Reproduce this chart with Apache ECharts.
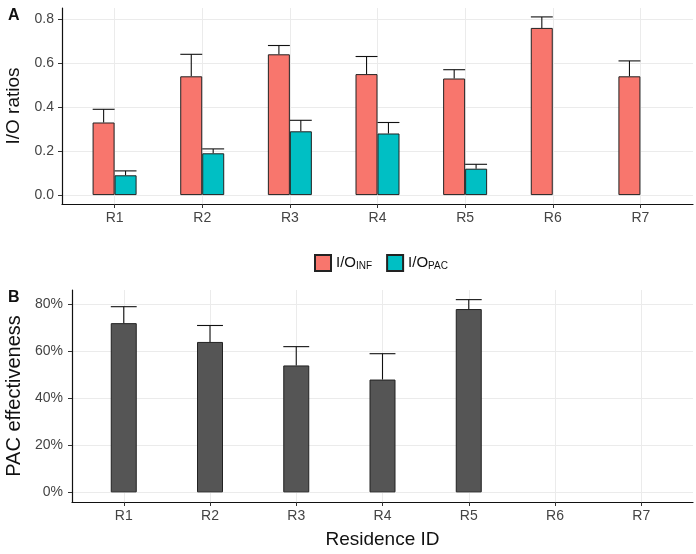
<!DOCTYPE html>
<html>
<head>
<meta charset="utf-8">
<script src="https://cdn.jsdelivr.net/npm/echarts@6/dist/echarts.min.js"></script>
<style>html,body{margin:0;padding:0;background:#fff}#c{width:696px;height:554px}</style>
</head>
<body>
<div id="c"></div>
<script>
// ---- data ----
var categories = ['R1', 'R2', 'R3', 'R4', 'R5', 'R6', 'R7'];
var ioInf = [0.33, 0.54, 0.64, 0.55, 0.53, 0.76, 0.54];
var ioInfUpper = [0.39, 0.64, 0.68, 0.63, 0.57, 0.81, 0.61];
var ioPac = [0.09, 0.19, 0.29, 0.28, 0.12, null, null];
var ioPacUpper = [0.11, 0.21, 0.34, 0.33, 0.14, null, null];
var pacEff = [0.72, 0.64, 0.54, 0.48, 0.78, null, null];
var pacEffUpper = [0.79, 0.71, 0.62, 0.59, 0.82, null, null];
var yTicksA = [0, 0.2, 0.4, 0.6, 0.8];
var yTicksB = [0, 0.2, 0.4, 0.6, 0.8];

var FONT = '"Liberation Sans", Arial, sans-serif';
var pos = categories.map(function (c, i) { return i + 1; });

function barData(vals) {
  return vals.map(function (v, i) { return v == null ? [pos[i], '-'] : [pos[i], v]; });
}
function errData(vals, ups) {
  var out = [];
  vals.forEach(function (v, i) { if (v != null) out.push([pos[i], v, ups[i]]); });
  return out;
}
function errSeries(name, xi, yi, vals, ups, dx, half) {
  return {
    type: 'custom', name: name, xAxisIndex: xi, yAxisIndex: yi, z: 3, silent: true,
    data: errData(vals, ups),
    renderItem: function (params, api) {
      var x = api.value(0), v = api.value(1), u = api.value(2);
      var p0 = api.coord([x + dx, v]);
      var p1 = api.coord([x + dx, u]);
      var cl = api.coord([x + dx - half, u]);
      var cr = api.coord([x + dx + half, u]);
      var st = { stroke: '#111', lineWidth: 1.1 };
      return {
        type: 'group', children: [
          { type: 'line', shape: { x1: p0[0], y1: p0[1], x2: p1[0], y2: p1[1] }, style: st },
          { type: 'line', shape: { x1: cl[0], y1: cl[1], x2: cr[0], y2: cr[1] }, style: st }
        ]
      };
    }
  };
}

var tickLabel = { color: '#444', fontSize: 14, fontFamily: FONT };
function xAxisCfg(gi, name) {
  return {
    type: 'value', gridIndex: gi, min: 0.4, max: 7.6,
    axisLine: { show: true, onZero: false, lineStyle: { color: '#111', width: 1.2 } },
    axisTick: { show: true, length: 4, customValues: pos, lineStyle: { color: '#333', width: 1 } },
    axisLabel: Object.assign({ margin: 7, customValues: pos, formatter: function (v) { return categories[Math.round(v) - 1]; } }, tickLabel),
    splitLine: { show: true, lineStyle: { color: '#ebebeb', width: 1 } },
    name: name || '', nameLocation: 'middle', nameGap: 28,
    nameTextStyle: { fontSize: 19, color: '#111', fontFamily: FONT }
  };
}
function yAxisCfg(gi, min, max, ticks, fmt, name, gap, margin, fs) {
  return {
    type: 'value', gridIndex: gi, min: min, max: max,
    axisLine: { show: true, onZero: false, lineStyle: { color: '#111', width: 1.2 } },
    axisTick: { show: true, length: 4, customValues: ticks, lineStyle: { color: '#333', width: 1 } },
    axisLabel: Object.assign({ margin: margin, customValues: ticks, formatter: fmt }, tickLabel),
    splitLine: { show: true, lineStyle: { color: '#ebebeb', width: 1 } },
    name: name, nameLocation: 'middle', nameRotate: 90, nameGap: gap,
    nameTextStyle: { fontSize: fs, color: '#111', fontFamily: FONT }
  };
}

var chart = echarts.init(document.getElementById('c'), null, { renderer: 'canvas' });
chart.setOption({
  animation: false,
  backgroundColor: '#fff',
  title: [
    { text: 'A', left: 3, top: 3, textStyle: { fontSize: 16, fontWeight: 'bold', color: '#111', fontFamily: FONT } },
    { text: 'B', left: 3, top: 285, textStyle: { fontSize: 16, fontWeight: 'bold', color: '#111', fontFamily: FONT } }
  ],
  legend: {
    left: 309, top: 249, itemWidth: 16, itemHeight: 16, itemGap: 14, icon: 'rect',
    data: ['I/O_INF', 'I/O_PAC'],
    formatter: function (n) { return '{a|I/O}{b|' + n.split('_')[1] + '}'; },
    textStyle: {
      fontFamily: FONT, color: '#111',
      rich: {
        a: { fontSize: 15, fontFamily: FONT, color: '#111' },
        b: { fontSize: 10, fontFamily: FONT, color: '#111', padding: [7, 0, 0, 0] }
      }
    }
  },
  grid: [
    { left: 62, right: 3, top: 8, height: 196, outerBoundsMode: 'none', containLabel: false },
    { left: 72, right: 3, top: 290, height: 212, outerBoundsMode: 'none', containLabel: false }
  ],
  xAxis: [xAxisCfg(0), xAxisCfg(1, 'Residence ID')],
  yAxis: [
    yAxisCfg(0, -0.0405, 0.8505, yTicksA, function (v) { return v.toFixed(1); }, 'I/O ratios', 37, 8, 19),
    yAxisCfg(1, -0.041, 0.861, yTicksB, function (v) { return Math.round(v * 100) + '%'; }, 'PAC effectiveness', 46, 9, 20)
  ],
  series: [
    { type: 'bar', name: 'I/O_INF', xAxisIndex: 0, yAxisIndex: 0, barWidth: 22, barGap: '0%', z: 4,
      itemStyle: { color: '#F8766D', borderColor: '#222', borderWidth: 1 }, data: barData(ioInf) },
    { type: 'bar', name: 'I/O_PAC', xAxisIndex: 0, yAxisIndex: 0, barWidth: 22, barGap: '0%', z: 4,
      itemStyle: { color: '#00BFC4', borderColor: '#222', borderWidth: 1 }, data: barData(ioPac) },
    errSeries('errInf', 0, 0, ioInf, ioInfUpper, -0.125, 0.125),
    errSeries('errPac', 0, 0, ioPac, ioPacUpper, 0.125, 0.125),
    { type: 'bar', name: 'PAC effectiveness', xAxisIndex: 1, yAxisIndex: 1, barWidth: 26, z: 4,
      itemStyle: { color: '#555555', borderColor: '#222', borderWidth: 1 }, data: barData(pacEff) },
    errSeries('errEff', 1, 1, pacEff, pacEffUpper, 0, 0.15)
  ]
});
</script>
</body>
</html>
